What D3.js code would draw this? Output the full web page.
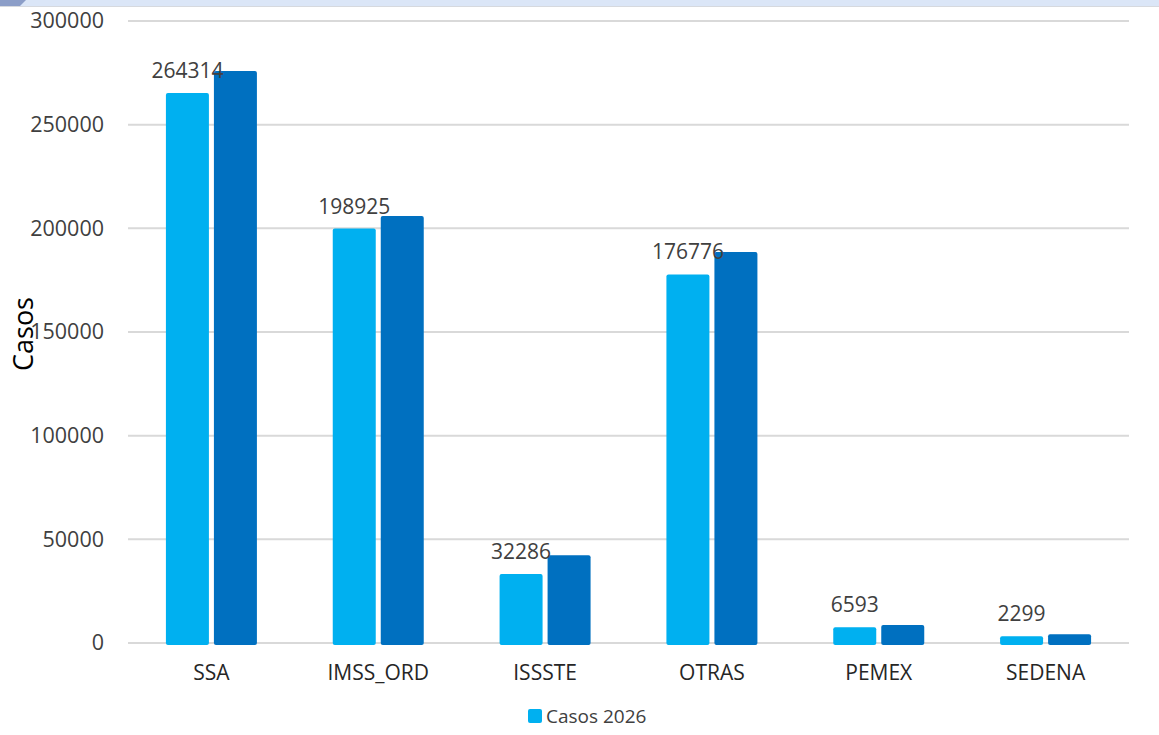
<!DOCTYPE html>
<html lang="es">
<head>
    <meta charset="UTF-8">
    <title>Casos por institución</title>
    <script src="https://d3js.org/d3.v7.min.js"></script>
    <style>
        body { margin: 0; background: #fff; }
        text { font-family: "Open Sans", "DejaVu Sans", sans-serif; }
    </style>
</head>
<body>
    <div id="chart"></div>

    <script>
        // Datos
        const categorias = ["SSA", "IMSS_ORD", "ISSSTE", "OTRAS", "PEMEX", "SEDENA"];
        const casos2026 = [264314, 198925, 32286, 176776, 6593, 2299];
        const casosPrevios = [274900, 205000, 41400, 187600, 7700, 3300];
        const ticksY = [0, 50000, 100000, 150000, 200000, 250000, 300000];

        const W = 1159, H = 735;
        const margin = { top: 21, right: 30, bottom: 92, left: 128 };

        const svg = d3.select("#chart").append("svg")
            .attr("width", W)
            .attr("height", H);

        // franja superior (ventana)
        svg.append("rect").attr("x", 0).attr("y", 0).attr("width", W).attr("height", 6).attr("fill", "#dbe6f7");
        svg.append("rect").attr("x", 0).attr("y", 6).attr("width", W).attr("height", 1).attr("fill", "#d6d9de");
        svg.append("path").attr("d", "M0,0 H26 L20,6 H0 Z").attr("fill", "#8c9ec8");

        const x = d3.scaleBand().domain(categorias).range([margin.left, W - margin.right]);
        const y = d3.scaleLinear().domain([0, 300000]).range([H - margin.bottom, margin.top]);

        // Cuadrícula
        svg.append("g").selectAll("line")
            .data(ticksY)
            .enter().append("line")
            .attr("x1", margin.left).attr("x2", W - margin.right)
            .attr("y1", d => y(d)).attr("y2", d => y(d))
            .attr("stroke", "#d9d9d9").attr("stroke-width", 2);

        // Eje Y
        const ejeY = svg.append("g")
            .attr("transform", `translate(${margin.left - 24},0)`)
            .call(d3.axisLeft(y).tickValues(ticksY).tickSize(0).tickPadding(0).tickFormat(d3.format("d")));
        ejeY.select(".domain").remove();
        ejeY.selectAll("text").attr("font-size", 21.5).attr("fill", "#404040")
            .attr("font-family", "'Open Sans', sans-serif");

        // Eje X
        const ejeX = svg.append("g")
            .attr("transform", `translate(0,${H - margin.bottom})`)
            .call(d3.axisBottom(x).tickSize(0).tickPadding(22));
        ejeX.select(".domain").remove();
        ejeX.selectAll("text").attr("font-size", 21).attr("fill", "#262626")
            .attr("font-family", "'Open Sans', sans-serif");

        // Título eje Y
        svg.append("text")
            .attr("transform", `translate(33,${(y(150000) + 2)}) rotate(-90)`)
            .attr("text-anchor", "middle")
            .attr("font-size", 27)
            .attr("fill", "#000")
            .text("Casos");

        // Barras
        const barW = 43, gap = 5;
        const base = y(0) + 2;

        svg.append("g").selectAll("rect")
            .data(categorias)
            .enter().append("rect")
            .attr("x", d => x(d) + x.bandwidth() / 2 - gap / 2 - barW)
            .attr("y", (d, i) => y(casos2026[i]) - 2)
            .attr("width", barW)
            .attr("height", (d, i) => base - y(casos2026[i]) + 2)
            .attr("rx", 2)
            .attr("fill", "#00b0f0");

        svg.append("g").selectAll("rect")
            .data(categorias)
            .enter().append("rect")
            .attr("x", d => x(d) + x.bandwidth() / 2 + gap / 2)
            .attr("y", (d, i) => y(casosPrevios[i]) - 2)
            .attr("width", barW)
            .attr("height", (d, i) => base - y(casosPrevios[i]) + 2)
            .attr("rx", 2)
            .attr("fill", "#0070c0");

        // Etiquetas de datos
        svg.append("g").selectAll("text")
            .data(categorias)
            .enter().append("text")
            .attr("x", d => x(d) + x.bandwidth() / 2 - gap / 2 - barW / 2)
            .attr("y", (d, i) => y(casos2026[i]) - 17)
            .attr("text-anchor", "middle")
            .attr("font-size", 21)
            .attr("fill", "#404040")
            .text((d, i) => casos2026[i]);

        // Leyenda
        const ley = svg.append("g").attr("transform", "translate(528,709)");
        ley.append("rect").attr("width", 14).attr("height", 14).attr("rx", 2).attr("fill", "#00b0f0");
        ley.append("text").attr("x", 18).attr("y", 7).attr("dy", "0.35em")
            .attr("font-size", 19).attr("fill", "#404040").text("Casos 2026");
    </script>
</body>
</html>
